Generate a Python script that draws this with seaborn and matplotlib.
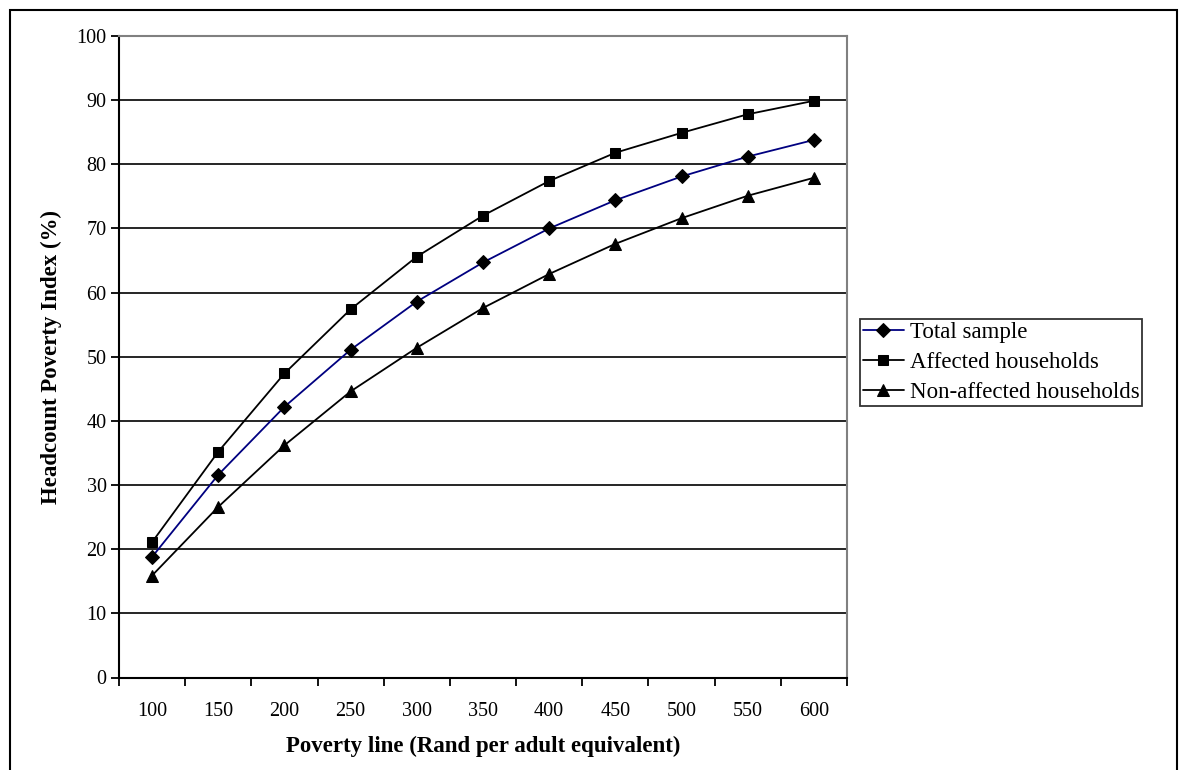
import matplotlib
matplotlib.use("Agg")
import matplotlib.pyplot as plt
import seaborn as sns
import pandas as pd
from matplotlib.patches import Rectangle

# Значения
poverty_lines = ["100", "150", "200", "250", "300", "350", "400", "450", "500", "550", "600"]
total_sample = [18.8, 31.6, 42.2, 51.1, 58.6, 64.7, 70.0, 74.4, 78.1, 81.2, 83.8]
affected = [21.1, 35.2, 47.4, 57.4, 65.6, 72.0, 77.4, 81.8, 84.9, 87.8, 89.9]
non_affected = [15.9, 26.6, 36.2, 44.6, 51.4, 57.6, 62.9, 67.6, 71.6, 75.1, 77.9]

series_names = ["Total sample", "Affected households", "Non-affected households"]

sns.set_style("white")
plt.rcParams["font.family"] = ["Liberation Serif", "DejaVu Serif"]
plt.rcParams.update({
    "text.color": "black",
    "axes.labelcolor": "black",
    "xtick.color": "black",
    "ytick.color": "black",
})

fig = plt.figure(figsize=(11.79, 7.7), dpi=100)
ax = fig.add_axes([119 / 1179, 1 - 677.5 / 770, (847 - 119) / 1179, (677.5 - 36) / 770])

df = pd.DataFrame({"line": poverty_lines, "total": total_sample,
                   "affected": affected, "non": non_affected})

styles = [
    ("total", series_names[0], "#000080", "D", 7),
    ("affected", series_names[1], "black", "s", 7),
    ("non", series_names[2], "black", "^", 8.5),
]
for col, name, color, marker, ms in styles:
    sns.lineplot(data=df, x="line", y=col, ax=ax, color=color, marker=marker,
                 markersize=ms, markerfacecolor="black", markeredgecolor="black",
                 linewidth=1.3, label=name, sort=False)

ax.set_xlim(-0.5, len(poverty_lines) - 0.5)
ax.set_ylim(0, 100)
ax.set_yticks(range(0, 101, 10))
ax.yaxis.grid(True, color="black", linewidth=1.2)
ax.xaxis.grid(False)
ax.set_axisbelow(True)

# подписи по центру категорий, засечки на границах
ax.set_xticks(range(len(poverty_lines)))
ax.set_xticklabels(poverty_lines)
ax.set_xticks([i - 0.5 for i in range(len(poverty_lines) + 1)], minor=True)
ax.tick_params(axis="x", which="major", length=0, pad=18, labelsize=14.5)
ax.tick_params(axis="x", which="minor", length=6, width=1.3, color="black", direction="out", bottom=True)
ax.tick_params(axis="y", which="major", length=6, width=1.3, color="black", direction="out",
               left=True, labelsize=14.5, pad=3)

for side in ["left", "bottom"]:
    ax.spines[side].set_color("black")
    ax.spines[side].set_linewidth(1.5)
for side in ["top", "right"]:
    ax.spines[side].set_color("#808080")
    ax.spines[side].set_linewidth(1.5)

ax.set_xlabel("Poverty line (Rand per adult equivalent)", fontsize=16.5, fontweight="bold", labelpad=10)
ax.set_ylabel("Headcount Poverty Index (%)", fontsize=16.5, fontweight="bold", labelpad=10)

leg = ax.legend(loc="upper left", bbox_to_anchor=(860 / 1179, 1 - 319 / 770),
                bbox_transform=fig.transFigure, frameon=True, fancybox=False,
                edgecolor="black", fontsize=16.5, handlelength=1.8, handletextpad=0.25,
                borderpad=0.12, labelspacing=0.4, borderaxespad=0)
leg.get_frame().set_linewidth(1.3)

# рамка вокруг всей картинки
fig.patches.append(Rectangle((10 / 1179, -0.02), 1167 / 1179, 1.02 - 10 / 770,
                             transform=fig.transFigure, fill=False,
                             edgecolor="black", linewidth=1.5))

fig.savefig("out.png", dpi=100)
